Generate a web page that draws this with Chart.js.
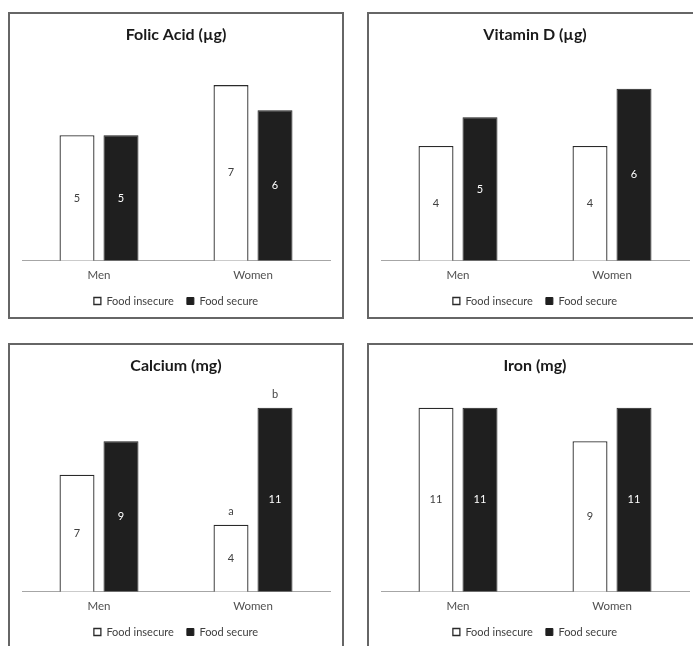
<!DOCTYPE html>
<html>
<head>
<meta charset="utf-8">
<script src="https://cdn.jsdelivr.net/npm/chart.js@4.4.1/dist/chart.umd.min.js"></script>
<style>
    html, body { margin: 0; padding: 0; background: #fff; overflow: hidden; width: 693px; height: 646px; }
    .panel { position: absolute; width: 336px; height: 307px; box-sizing: border-box; border: 2px solid #666; }
    .panel canvas { position: absolute; left: -2px; top: -2px; }
</style>
</head>
<body>
<div class="panel" style="left:8px; top:12px;"><canvas id="chart-folic" width="336" height="307"></canvas></div>
<div class="panel" style="left:367px; top:12px;"><canvas id="chart-vitd" width="336" height="307"></canvas></div>
<div class="panel" style="left:8px; top:343px;"><canvas id="chart-calcium" width="336" height="307"></canvas></div>
<div class="panel" style="left:367px; top:343px;"><canvas id="chart-iron" width="336" height="307"></canvas></div>
<script>
const categories = ['Men', 'Women'];
const seriesNames = ['Food insecure', 'Food secure'];

const folicInsecure = [5, 7];
const folicSecure = [5, 6];
const vitDInsecure = [4, 4];
const vitDSecure = [5, 6];
const calciumInsecure = [7, 4];
const calciumSecure = [9, 11];
const ironInsecure = [11, 9];
const ironSecure = [11, 11];

// significance letters above the calcium bars
const calciumLettersInsecure = [null, 'a'];
const calciumLettersSecure = [null, 'b'];

const FONT = 'Lato, "Open Sans", sans-serif';

// draws the value in the middle of each bar, and letters above it
const valueLabels = {
    id: 'valueLabels',
    afterDatasetsDraw(chart) {
        const ctx = chart.ctx;
        chart.data.datasets.forEach((ds, i) => {
            const meta = chart.getDatasetMeta(i);
            meta.data.forEach((bar, j) => {
                ctx.save();
                ctx.font = '11px ' + FONT;
                ctx.textAlign = 'center';
                ctx.textBaseline = 'middle';
                ctx.fillStyle = ds.labelColor;
                ctx.fillText(String(ds.data[j]), bar.x, (bar.y + bar.base) / 2);
                if (ds.letters && ds.letters[j]) {
                    ctx.fillStyle = '#444';
                    ctx.textBaseline = 'alphabetic';
                    ctx.fillText(ds.letters[j], bar.x, bar.y - 10);
                }
                ctx.restore();
            });
        });
    }
};

function makeChart(id, title, insecure, secure, yMax, lettersInsecure, lettersSecure) {
    const ctx = document.getElementById(id);
    return new Chart(ctx, {
        type: 'bar',
        plugins: [valueLabels],
        data: {
            labels: categories,
            datasets: [
                {
                    label: seriesNames[0],
                    data: insecure,
                    backgroundColor: '#ffffff',
                    borderColor: '#2a2a2a',
                    borderWidth: 1.3,
                    labelColor: '#404040',
                    letters: lettersInsecure
                },
                {
                    label: seriesNames[1],
                    data: secure,
                    backgroundColor: '#1f1f1f',
                    borderColor: '#1f1f1f',
                    borderWidth: 1,
                    labelColor: '#ffffff',
                    letters: lettersSecure
                }
            ]
        },
        options: {
            responsive: false,
            animation: false,
            categoryPercentage: 0.5714,
            barPercentage: 0.795,
            layout: { padding: { left: 14, right: 14, top: 0, bottom: 2.5 } },
            plugins: {
                tooltip: { enabled: false },
                title: {
                    display: true,
                    text: title,
                    color: '#1a1a1a',
                    font: { family: FONT, size: 16, weight: 'bold', lineHeight: 1.2 },
                    padding: { top: 13.5, bottom: 15.3 }
                },
                legend: {
                    position: 'bottom',
                    labels: {
                        color: '#404040',
                        font: { family: FONT, size: 11 },
                        boxWidth: 7,
                        boxHeight: 7,
                        padding: 13
                    }
                }
            },
            scales: {
                x: {
                    grid: { display: false, drawTicks: true, tickLength: 8 },
                    border: { display: true, color: '#a6a6a6', width: 1 },
                    ticks: { color: '#505050', font: { family: FONT, size: 11.5 }, padding: 0 }
                },
                y: {
                    display: false,
                    min: 0,
                    max: yMax
                }
            }
        }
    });
}

makeChart('chart-folic', 'Folic Acid (µg)', folicInsecure, folicSecure, 8);
makeChart('chart-vitd', 'Vitamin D (µg)', vitDInsecure, vitDSecure, 7);
makeChart('chart-calcium', 'Calcium (mg)', calciumInsecure, calciumSecure, 12, calciumLettersInsecure, calciumLettersSecure);
makeChart('chart-iron', 'Iron (mg)', ironInsecure, ironSecure, 12);
</script>
</body>
</html>
